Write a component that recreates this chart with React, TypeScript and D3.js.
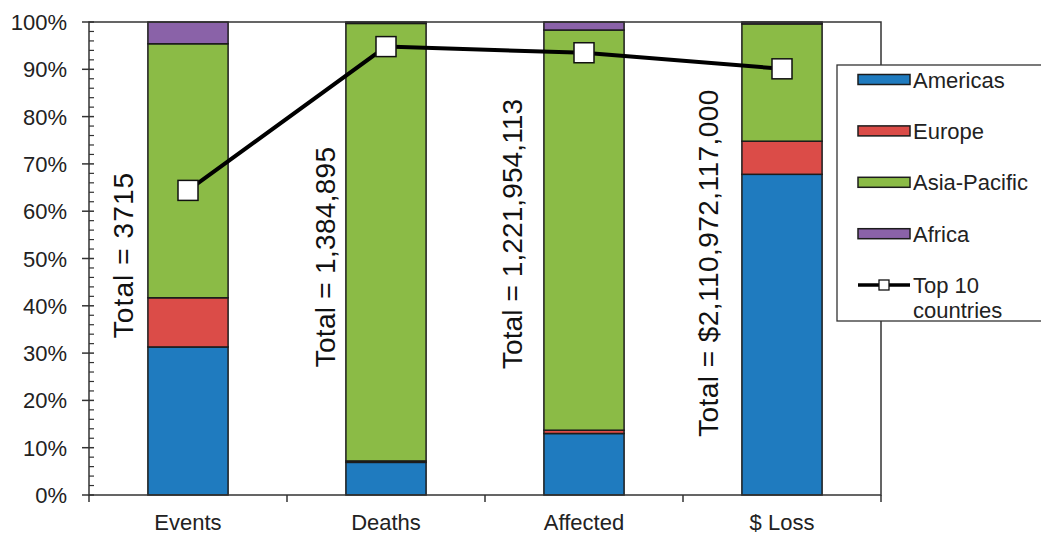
import React from "react";
import * as d3 from "d3";

// Share of disaster impacts by region, per measure (percent of total)
const categories = ["Events", "Deaths", "Affected", "$ Loss"];
const regions = ["Americas", "Europe", "Asia-Pacific", "Africa"];
const americas = [31.3, 6.9, 13.0, 67.8];
const europe = [10.4, 0.3, 0.7, 7.0];
const asiaPacific = [53.7, 92.5, 84.6, 24.8];
const africa = [4.6, 0.3, 1.7, 0.4];
const top10 = [64.4, 94.8, 93.5, 90.1];
const totals = [
  "Total = 3715",
  "Total = 1,384,895",
  "Total = 1,221,954,113",
  "Total = $2,110,972,117,000",
];
const yTicks = [0, 10, 20, 30, 40, 50, 60, 70, 80, 90, 100];

const regionColors = ["#1f7bbf", "#db4c48", "#8bbb46", "#8a62a8"];
const lineName = ["Top 10", "countries"];

// annotation placement relative to each bar (px offset of baseline from bar's left edge, vertical centre)
const totalLabelLayout = [
  { dx: -15, cy: 255, spacing: 1.1 },
  { dx: -11, cy: 257, spacing: 0.3 },
  { dx: -22, cy: 234, spacing: 0.1 },
  { dx: -24, cy: 263, spacing: 0.45 },
];

const W = 1041;
const H = 534;
const margin = { left: 89, right: 160, top: 22, bottom: 39 };
const font = "Arial, 'Liberation Sans', Helvetica, sans-serif";

export default function App() {
  const x = d3
    .scaleBand<string>()
    .domain(categories)
    .range([margin.left, W - margin.right])
    .paddingInner(0.595)
    .paddingOuter(0.2975);
  const y = d3.scaleLinear().domain([0, 100]).range([H - margin.bottom, margin.top]);

  const rows = categories.map((c, i) => ({
    cat: c,
    Americas: americas[i],
    Europe: europe[i],
    "Asia-Pacific": asiaPacific[i],
    Africa: africa[i],
  }));
  const stacked = d3.stack<any>().keys(regions)(rows);

  const x0 = margin.left;
  const x1 = W - margin.right;
  const yb = y(0);
  const yt = y(100);
  const step = x.step();
  const boundaries = d3.range(0, categories.length + 1).map((i) => x0 + i * step);
  const minor = d3.range(0, 101, 2).filter((v) => v % 10 !== 0);

  const line = d3
    .line<number>()
    .x((_, i) => (x(categories[i]) as number) + x.bandwidth() / 2)
    .y((d) => y(d));

  const legendX = 837;
  const legendY = 65;
  const rowCy = (i: number) => 79.5 + i * 51.4;

  return (
    <svg
      width={W}
      height={H}
      style={{ position: "absolute", left: 0, top: 0, background: "#fff" }}
      fontFamily={font}
    >
      {/* stacked bars */}
      {stacked.map((layer, li) => (
        <g key={regions[li]}>
          {layer.map((d, i) => (
            <rect
              key={i}
              x={x(categories[i])}
              y={y(d[1])}
              width={x.bandwidth()}
              height={Math.max(0, y(d[0]) - y(d[1]))}
              fill={regionColors[li]}
              stroke="#1c1c1c"
              strokeWidth={1.5}
            />
          ))}
        </g>
      ))}

      {/* plot frame */}
      <rect x={x0} y={yt} width={x1 - x0} height={yb - yt} fill="none" stroke="#333" strokeWidth={1.5} />

      {/* y axis ticks */}
      {yTicks.map((t) => (
        <g key={t}>
          <line x1={x0 - 7} x2={x0 + 5} y1={y(t)} y2={y(t)} stroke="#333" strokeWidth={1.5} />
          <text x={67} y={y(t) + 8} textAnchor="end" fontSize={22} fill="#222">
            {t}%
          </text>
        </g>
      ))}
      {minor.map((t) => (
        <line key={t} x1={x0} x2={x0 + 5} y1={y(t)} y2={y(t)} stroke="#333" strokeWidth={1.2} />
      ))}

      {/* x axis ticks and labels */}
      {boundaries.map((bx, i) => (
        <line key={i} x1={bx} x2={bx} y1={yb} y2={yb + 7} stroke="#333" strokeWidth={1.5} />
      ))}
      {categories.map((c) => (
        <text
          key={c}
          x={(x(c) as number) + x.bandwidth() / 2}
          y={530}
          textAnchor="middle"
          fontSize={22}
          fill="#222"
        >
          {c}
        </text>
      ))}

      {/* totals */}
      {totals.map((t, i) => {
        const L = totalLabelLayout[i];
        const tx = (x(categories[i]) as number) + L.dx;
        return (
          <text
            key={i}
            transform={`translate(${tx},${L.cy}) rotate(-90)`}
            textAnchor="middle"
            fontSize={28}
            letterSpacing={L.spacing}
            fill="#111"
          >
            {t}
          </text>
        );
      })}

      {/* top-10 countries line */}
      <path d={line(top10) as string} fill="none" stroke="#000" strokeWidth={4} />
      {top10.map((v, i) => (
        <rect
          key={i}
          x={(x(categories[i]) as number) + x.bandwidth() / 2 - 10}
          y={y(v) - 10}
          width={20}
          height={20}
          fill="#fff"
          stroke="#111"
          strokeWidth={1.5}
        />
      ))}

      {/* legend */}
      <rect x={legendX} y={legendY} width={230} height={256} fill="#fff" stroke="#333" strokeWidth={1.3} />
      {regions.map((r, i) => (
        <g key={r}>
          <rect
            x={858}
            y={rowCy(i) - 5}
            width={52}
            height={10}
            fill={regionColors[i]}
            stroke="#1c1c1c"
            strokeWidth={1.5}
          />
          <text x={913} y={rowCy(i) + 8} fontSize={22} fill="#222">
            {r}
          </text>
        </g>
      ))}
      <line x1={858} x2={910} y1={285} y2={285} stroke="#000" strokeWidth={3.5} />
      <rect x={879} y={280} width={10} height={10} fill="#fff" stroke="#111" strokeWidth={1.3} />
      <text x={913} y={293} fontSize={22} fill="#222">
        {lineName[0]}
      </text>
      <text x={913} y={318} fontSize={22} fill="#222">
        {lineName[1]}
      </text>
    </svg>
  );
}
